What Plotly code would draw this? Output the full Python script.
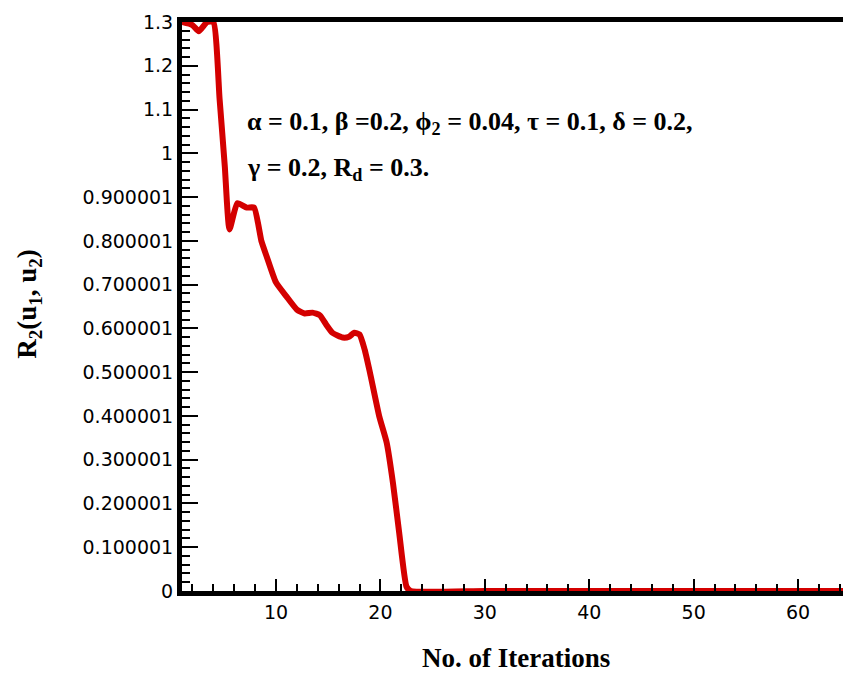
import plotly.graph_objects as go

# Data
iterations = [1, 2.0, 2.6, 3.4, 4.0, 4.6, 5.1, 5.55, 6.3, 7.2, 7.9, 8.6, 9.1, 10.0, 11.0,
              12.0, 12.75, 13.5, 14.2, 14.8, 15.4, 16.4, 17.0, 17.5, 18.0, 18.5, 19.0,
              19.9, 20.6, 21.2, 21.8, 22.5, 22.9, 30, 40, 50, 60, 65]
residual = [1.3, 1.293, 1.279, 1.3, 1.3, 1.124, 0.97, 0.826, 0.886, 0.876, 0.876, 0.80,
            0.765, 0.705, 0.673, 0.643, 0.634, 0.636, 0.630, 0.609, 0.590, 0.579, 0.581,
            0.590, 0.586, 0.551, 0.499, 0.398, 0.339, 0.247, 0.133, 0.01, 0.0, 0.0, 0.0,
            0.0, 0.0, 0.0]

y_tick_vals = [0, 0.1, 0.2, 0.3, 0.4, 0.5, 0.6, 0.7, 0.8, 0.9, 1.0, 1.1, 1.2, 1.3]
y_tick_text = ["0", "0.100001", "0.200001", "0.300001", "0.400001", "0.500001",
               "0.600001", "0.700001", "0.800001", "0.900001", "1", "1.1", "1.2", "1.3"]
x_tick_vals = [10, 20, 30, 40, 50, 60]

fig = go.Figure()
fig.add_trace(go.Scatter(
    x=iterations, y=residual, mode="lines",
    line=dict(color="#d40000", width=6, shape="spline", smoothing=0.5),
    showlegend=False, hoverinfo="skip",
))

tick_font = dict(family="DejaVu Sans", size=19, color="black")
serif = "Liberation Serif"

fig.update_layout(
    width=843, height=673,
    margin=dict(l=182, r=0, t=22, b=82),
    paper_bgcolor="white", plot_bgcolor="white",
    xaxis=dict(
        range=[1, 64.3], tickvals=x_tick_vals, ticks="inside", ticklen=12,
        tickwidth=2, tickcolor="black", showgrid=False, zeroline=False,
        showline=True, linewidth=5, linecolor="black", mirror=True,
        tickfont=tick_font,
        minor=dict(ticks="inside", ticklen=7, tickwidth=1.5, tickcolor="black",
                   dtick=2, tick0=0, showgrid=False),
    ),
    yaxis=dict(
        range=[0, 1.3], tickvals=y_tick_vals, ticktext=y_tick_text,
        ticks="inside", ticklen=16, tickwidth=2, tickcolor="black",
        showgrid=False, zeroline=False, showline=True, linewidth=5,
        linecolor="black", mirror=False, tickfont=tick_font,
        minor=dict(ticks="inside", ticklen=8, tickwidth=1.5, tickcolor="black",
                   dtick=0.02, tick0=0, showgrid=False),
    ),
    annotations=[
        dict(text="<b>No. of Iterations</b>",
             xref="paper", yref="paper", x=0.505, y=-0.117, showarrow=False,
             xanchor="center", yanchor="middle",
             font=dict(family=serif, size=27, color="black")),
        dict(text="<b>R<sub>2</sub>(u<sub>1</sub>, u<sub>2</sub>)</b>",
             xref="paper", yref="paper", x=-0.2315, y=0.505, textangle=-90,
             showarrow=False, xanchor="center", yanchor="middle",
             font=dict(family=serif, size=27, color="black")),
        dict(text="<b>α = 0.1, β =0.2, ϕ<sub>2</sub> = 0.04, τ = 0.1, δ = 0.2,</b>",
             xref="paper", yref="paper", x=0.0953, y=0.822, showarrow=False,
             xanchor="left", yanchor="middle",
             font=dict(family=serif, size=26, color="black")),
        dict(text="<b>γ = 0.2, R<sub>d</sub> = 0.3.</b>",
             xref="paper", yref="paper", x=0.0953, y=0.742, showarrow=False,
             xanchor="left", yanchor="middle",
             font=dict(family=serif, size=26, color="black")),
    ],
)

fig.write_html("out.html", config={"displayModeBar": False},
               post_script="document.body.style.margin='0';")
